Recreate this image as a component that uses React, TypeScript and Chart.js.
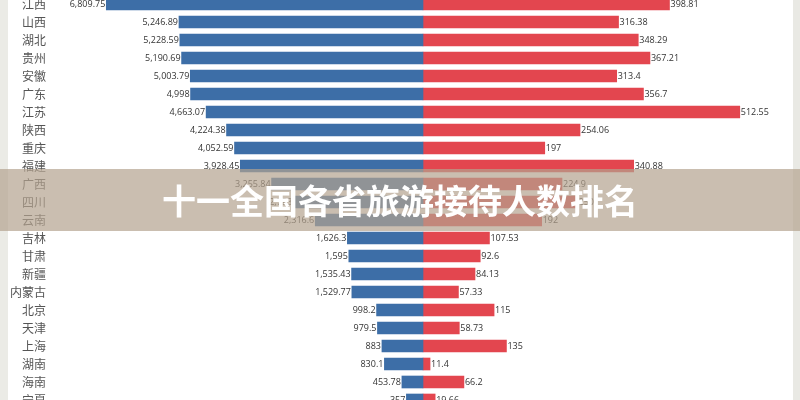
import React, { useEffect, useRef } from "react";
import { Chart, registerables } from "chart.js";

Chart.register(...registerables);

const provinces = [
  "江西", "山西", "湖北", "贵州", "安徽", "广东", "江苏", "陕西", "重庆", "福建",
  "广西", "四川", "云南", "吉林", "甘肃", "新疆", "内蒙古", "北京", "天津", "上海",
  "湖南", "海南", "宁夏",
];

const visitors = [
  6809.75, 5246.89, 5228.59, 5190.69, 5003.79, 4998, 4663.07, 4224.38, 4052.59, 3928.45,
  3255.84, 2793, 2316.6, 1626.3, 1595, 1535.43, 1529.77, 998.2, 979.5, 883,
  830.1, 453.78, 357,
];

const revenue = [
  398.81, 316.38, 348.29, 367.21, 313.4, 356.7, 512.55, 254.06, 197, 340.88,
  224.9, 250, 192, 107.53, 92.6, 84.13, 57.33, 115, 58.73, 135,
  11.4, 66.2, 19.66,
];

const titleText = "十一全国各省旅游接待人数排名";

const BLUE = "#3d6ea7";
const RED = "#e3464f";

const valueLabels = {
  id: "valueLabels",
  afterDatasetsDraw(chart: any) {
    const ctx = chart.ctx;
    ctx.save();
    ctx.font = "9px 'Open Sans', sans-serif";
    ctx.fillStyle = "#333";
    ctx.textBaseline = "middle";
    chart.data.datasets.forEach((ds: any, di: number) => {
      const meta = chart.getDatasetMeta(di);
      meta.data.forEach((el: any, i: number) => {
        const v = ds.data[i] as number;
        if (di === 0) {
          ctx.textAlign = "right";
          ctx.fillText(v.toLocaleString("en-US"), el.x - 1, el.y);
        } else {
          ctx.textAlign = "left";
          ctx.fillText(String(v), el.x + 1, el.y);
        }
      });
    });
    ctx.restore();
  },
};

export default function App() {
  const ref = useRef<HTMLCanvasElement>(null);

  useEffect(() => {
    if (!ref.current) return;
    const chart = new Chart(ref.current, {
      type: "bar",
      data: {
        labels: provinces,
        datasets: [
          {
            label: "接待人数",
            data: visitors,
            backgroundColor: BLUE,
            xAxisID: "xL",
            grouped: false,
            barThickness: 12,
          } as any,
          {
            label: "旅游收入",
            data: revenue,
            backgroundColor: RED,
            xAxisID: "xR",
            grouped: false,
            barThickness: 12,
          } as any,
        ],
      },
      options: {
        indexAxis: "y",
        animation: false,
        responsive: true,
        maintainAspectRatio: false,
        layout: { padding: { left: 0, right: 4, top: 0, bottom: 0 } },
        plugins: {
          legend: { display: false },
          tooltip: { enabled: false },
          title: { display: false },
        },
        scales: {
          xL: {
            type: "linear",
            position: "bottom",
            reverse: true,
            min: -8020,
            max: 8020,
            display: false,
          },
          xR: {
            type: "linear",
            position: "bottom",
            min: -603.5,
            max: 603.5,
            display: false,
          },
          y: {
            grid: { display: false, drawTicks: false, tickLength: 0 },
            border: { display: false },
            ticks: {
              autoSkip: false,
              padding: 4,
              color: "#555",
              font: { family: "'Noto Sans CJK SC', sans-serif", size: 12 },
            },
            afterFit: (s: any) => {
              s.width = 50;
              s.paddingTop = 0;
              s.paddingBottom = 0;
            },
          },
        },
      } as any,
      plugins: [valueLabels],
    });
    return () => chart.destroy();
  }, []);

  return (
    <div
      style={{
        position: "fixed",
        left: 0,
        top: 0,
        width: 800,
        height: 400,
        overflow: "hidden",
        background: "#fff",
      }}
    >
      <div style={{ position: "absolute", left: 0, top: -5, width: 800, height: 414 }}>
        <canvas ref={ref} />
      </div>
      <div style={{ position: "absolute", left: 0, top: 0, width: 8, height: 400, background: "#ebebe6" }} />
      <div style={{ position: "absolute", left: 793, top: 0, width: 7, height: 400, background: "#e9e9e4" }} />
      <div
        style={{
          position: "absolute",
          left: 0,
          top: 169,
          width: 800,
          height: 62,
          background: "rgba(180,163,143,0.7)",
          display: "flex",
          alignItems: "center",
          justifyContent: "center",
          color: "#fff",
          fontFamily: "'Noto Sans CJK SC', sans-serif",
          fontWeight: 700,
          fontSize: 34,
          lineHeight: 1,
        }}
      >
        {titleText}
      </div>
    </div>
  );
}
